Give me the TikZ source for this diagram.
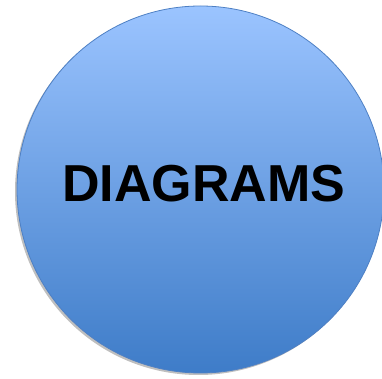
\documentclass[tikz,border=0pt]{standalone}
\usepackage{fontspec}
\setmainfont{Liberation Sans}
\usepackage{xcolor}
\usepackage{tikz}
\usetikzlibrary{positioning, calc}
\definecolor{discTop}{RGB}{155,196,255}
\definecolor{discBottom}{RGB}{62,124,200}
\definecolor{discEdge}{RGB}{78,128,196}
\tikzset{
  disc/.style={circle, draw=discEdge, line width=0.8pt, minimum size=367pt, inner sep=0pt,
    top color=discTop, bottom color=discBottom},
  discshadow/.style={circle, fill=black!25, minimum size=367pt, inner sep=0pt},
  title/.style={font=\fontsize{52}{52}\selectfont\bfseries, text=black, inner sep=0pt}
}

\begin{document}
\begin{tikzpicture}[x=1pt, y=1pt]
        \useasboundingbox (0,0) rectangle (382,379);
        \clip (0,0) rectangle (382,379);

        % Shadow and disc
        \node[discshadow] (shadow) at (198.5,187.5) {};
        \node[disc] (disc) at (200.5,189.5) {};

        % Caption
        \node[title] (caption) at (204,195.5) {DIAGRAMS};
    \end{tikzpicture}
\end{document}
